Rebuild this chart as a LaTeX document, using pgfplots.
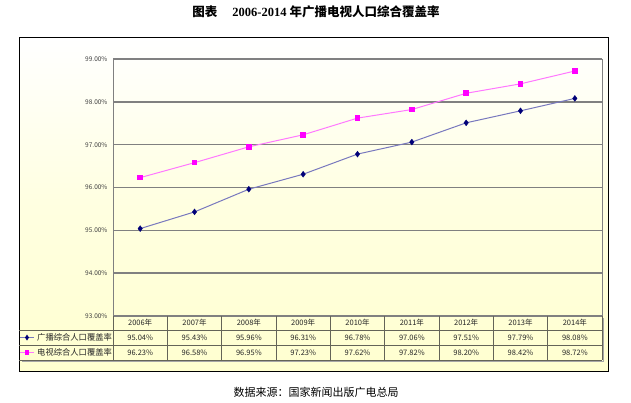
\documentclass[border=0pt]{standalone}
\usepackage{fontspec}
\setmainfont{Noto Sans CJK SC}
\newfontfamily\tnr{Liberation Serif}
\usepackage{pgfplots}
\pgfplotsset{compat=1.18}
\usepackage{pgfplotstable}
\definecolor{bgY}{RGB}{255,255,208}
\definecolor{gridc}{RGB}{128,128,128}
\definecolor{tabc}{RGB}{100,100,88}
\definecolor{sone}{RGB}{120,120,190}
\definecolor{sonem}{RGB}{0,0,120}
\definecolor{stwo}{RGB}{255,120,255}
\definecolor{stwom}{RGB}{255,0,255}
\pgfplotstableread{
x y
0 95.04
1 95.43
2 95.96
3 96.31
4 96.78
5 97.06
6 97.51
7 97.79
8 98.08
}\broad
\pgfplotstableread{
x y
0 96.23
1 96.58
2 96.95
3 97.23
4 97.62
5 97.82
6 98.20
7 98.42
8 98.72
}\tv
\begin{document}
\begin{tikzpicture}[x=1pt,y=-1pt]
\path[use as bounding box] (0,0) rectangle (631,403);
% title
\node[font=\fontsize{12.5}{14}\selectfont\bfseries] at (316,12) {图表\hspace{1.2em}{\tnr\bfseries 2006-2014} 年广播电视人口综合覆盖率};
% chart frame
\draw[black, line width=1pt, top color=white, bottom color=bgY, middle color=bgY!65] (19,38) rectangle (608,371);
\begin{axis}[at={(113pt,-316pt)}, anchor=south west, scale only axis,
  width=489pt, height=257pt,
  xmin=-0.5, xmax=8.5, ymin=93, ymax=99,
  ytick={93,94,...,99}, xtick=\empty,
  ymajorgrids, grid style={gridc, line width=1.4pt},
  axis line style={gridc, line width=0.9pt},
  major tick length=0pt,
  yticklabel style={font=\fontsize{6.5}{7}\selectfont, text=black!75, xshift=-2pt},
  /pgf/number format/assume math mode=true,
  yticklabel={\pgfmathprintnumber[fixed,fixed zerofill,precision=2]{\tick}\%},
  clip=false]
\addplot[color=sone, line width=1pt, mark=diamond*, mark size=3pt, mark options={fill=sonem, draw=sonem, line width=0.3pt}] table[x=x,y=y] {\broad};
\addplot[color=stwo, line width=1pt, mark=square*, mark size=2.3pt, mark options={fill=stwom, draw=stwom}] table[x=x,y=y] {\tv};
\end{axis}
% data table
\draw[tabc, line width=0.8pt] (19,330) -- (602,330);
\draw[tabc, line width=0.8pt] (19,345) -- (602,345);
\draw[tabc, line width=1pt] (19,360) -- (602,360);
\draw[gridc!70, line width=1pt] (22,361.5) -- (603.5,361.5) -- (603.5,318);
\foreach \k in {0,...,9}{
  \draw[tabc, line width=0.8pt] ({113+\k*489/9},316) -- ({113+\k*489/9},360);
}
\foreach \lab [count=\k from 0] in {2006,2007,2008,2009,2010,2011,2012,2013,2014}{
  \node[font=\fontsize{7.5}{8}\selectfont, text=black!85] at ({113+(\k+0.5)*489/9},323) {\lab 年};
}
\foreach \v [count=\k from 0] in {95.04,95.43,95.96,96.31,96.78,97.06,97.51,97.79,98.08}{
  \node[font=\fontsize{7.5}{8}\selectfont, text=black!85] at ({113+(\k+0.5)*489/9},337.5) {\v\%};
}
\foreach \v [count=\k from 0] in {96.23,96.58,96.95,97.23,97.62,97.82,98.20,98.42,98.72}{
  \node[font=\fontsize{7.5}{8}\selectfont, text=black!85] at ({113+(\k+0.5)*489/9},352.5) {\v\%};
}
% legend keys
\draw[sone, line width=1pt] (20,337.5) -- (34,337.5);
\fill[sonem] (27,334.5) -- (29,337.5) -- (27,340.5) -- (25,337.5) -- cycle;
\draw[stwo, line width=1pt] (20,352.5) -- (34,352.5);
\fill[stwom] (24.7,350.2) rectangle (29.3,354.8);
\node[anchor=west, font=\fontsize{8.3}{9}\selectfont, text=black!85, inner sep=0pt] at (37,337.5) {广播综合人口覆盖率};
\node[anchor=west, font=\fontsize{8.3}{9}\selectfont, text=black!85, inner sep=0pt] at (37,352.5) {电视综合人口覆盖率};
% source
\node[font=\fontsize{11}{12}\selectfont] at (316,392) {数据来源：国家新闻出版广电总局};
\end{tikzpicture}
\end{document}
